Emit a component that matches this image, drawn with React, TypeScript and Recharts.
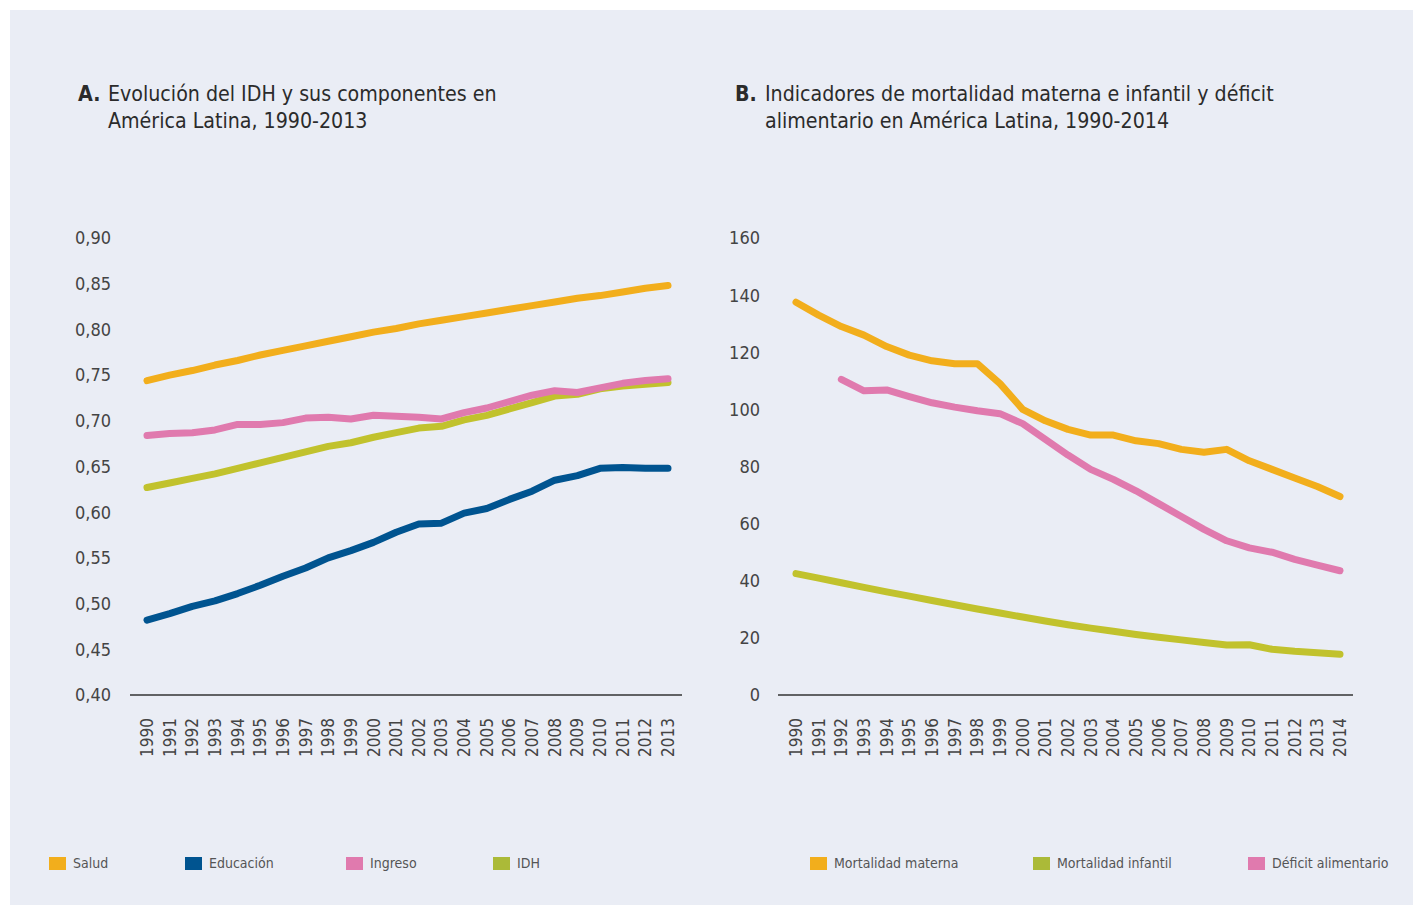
import React from 'react';
import { LineChart, Line, XAxis, YAxis } from 'recharts';

// Panel A: HDI and components, Latin America 1990-2013
const yearsA = [1990, 1991, 1992, 1993, 1994, 1995, 1996, 1997, 1998, 1999, 2000, 2001,
  2002, 2003, 2004, 2005, 2006, 2007, 2008, 2009, 2010, 2011, 2012, 2013];
const salud = [0.744, 0.750, 0.755, 0.761, 0.766, 0.772, 0.777, 0.782, 0.787, 0.792, 0.797, 0.801,
  0.806, 0.810, 0.814, 0.818, 0.822, 0.826, 0.830, 0.834, 0.837, 0.841, 0.845, 0.848];
const educacion = [0.482, 0.489, 0.497, 0.503, 0.511, 0.520, 0.530, 0.539, 0.550, 0.558, 0.567, 0.578,
  0.587, 0.588, 0.599, 0.604, 0.614, 0.623, 0.635, 0.640, 0.648, 0.649, 0.648, 0.648];
const ingreso = [0.684, 0.686, 0.687, 0.690, 0.696, 0.696, 0.698, 0.703, 0.704, 0.702, 0.706, 0.705,
  0.704, 0.702, 0.709, 0.714, 0.721, 0.728, 0.733, 0.731, 0.736, 0.741, 0.744, 0.746];
const idh = [0.627, 0.632, 0.637, 0.642, 0.648, 0.654, 0.660, 0.666, 0.672, 0.676, 0.682, 0.687,
  0.692, 0.694, 0.701, 0.706, 0.713, 0.720, 0.727, 0.729, 0.735, 0.738, 0.740, 0.742];
const ticksA = [0.4, 0.45, 0.5, 0.55, 0.6, 0.65, 0.7, 0.75, 0.8, 0.85, 0.9];

// Panel B: maternal/infant mortality and food deficit, 1990-2014
const yearsB = [1990, 1991, 1992, 1993, 1994, 1995, 1996, 1997, 1998, 1999, 2000, 2001,
  2002, 2003, 2004, 2005, 2006, 2007, 2008, 2009, 2010, 2011, 2012, 2013, 2014];
const mortMaterna = [137.5, 133, 129, 126, 122, 119, 117, 116, 116, 109, 100, 96,
  93, 91, 91, 89, 88, 86, 85, 86, 82, 79, 76, 73, 69.5];
const mortInfantil = [42.5, 40.9, 39.3, 37.7, 36.1, 34.6, 33.1, 31.6, 30.1, 28.7, 27.3, 25.9,
  24.6, 23.4, 22.3, 21.2, 20.2, 19.3, 18.4, 17.5, 17.6, 16.0, 15.3, 14.8, 14.3];
const deficit = [null, null, 110.5, 106.5, 106.8, 104.5, 102.3, 100.8, 99.5, 98.5, 95, 89.5,
  84, 79, 75.5, 71.5, 67, 62.5, 58, 54, 51.5, 50, 47.5, 45.5, 43.5];
const ticksB = [0, 20, 40, 60, 80, 100, 120, 140, 160];

const dataA = yearsA.map((year, i) => ({
  year: String(year), Salud: salud[i], 'Educación': educacion[i], Ingreso: ingreso[i], IDH: idh[i],
}));
const dataB = yearsB.map((year, i) => ({
  year: String(year),
  'Mortalidad materna': mortMaterna[i],
  'Mortalidad infantil': mortInfantil[i],
  'Déficit alimentario': deficit[i],
}));

const FONT = "'Liberation Sans Narrow', 'DejaVu Sans Condensed', Roboto, sans-serif";
const BG = '#eaedf5';

const YearTick = (props: any) => {
  const { x, y, payload } = props;
  return (
    <g transform={`translate(${x},${y})`}>
      <text transform="rotate(-90)" textAnchor="end" dominantBaseline="central"
        fill="#444" fontSize={17} fontFamily={FONT}>
        {payload.value}
      </text>
    </g>
  );
};

const lineProps = {
  type: 'linear' as const,
  dot: false,
  strokeWidth: 7,
  strokeLinecap: 'round' as const,
  strokeLinejoin: 'round' as const,
  isAnimationActive: false,
};

const Title = ({ letter, lines, left }: { letter: string, lines: string[], left: number }) => (
  <div style={{ position: 'absolute', left, top: 80, fontFamily: FONT, fontSize: 21.2, lineHeight: '27px', color: '#2b2b2b' }}>
    <span style={{ position: 'absolute', left: 0, top: 0, fontWeight: 'bold' }}>{letter}</span>
    <div style={{ marginLeft: 30, whiteSpace: 'nowrap' }}>
      {lines.map((l) => <div key={l}>{l}</div>)}
    </div>
  </div>
);

const LegendRow = ({ items }: { items: { name: string, color: string, x: number }[] }) => (
  <>
    {items.map((it) => (
      <div key={it.name} style={{ position: 'absolute', left: it.x, top: 855, display: 'flex', alignItems: 'center', fontFamily: FONT, fontSize: 14, color: '#555' }}>
        <span style={{ display: 'inline-block', width: 17, height: 13, background: it.color, marginRight: 7 }} />
        <span>{it.name}</span>
      </div>
    ))}
  </>
);

export default function App() {
  return (
    <div style={{ position: 'absolute', left: 0, top: 0, width: 1413, height: 907, background: '#fff' }}>
      <div style={{ position: 'absolute', left: 10, top: 10, width: 1403, height: 895, background: BG }} />

      <Title letter="A." left={78} lines={['Evolución del IDH y sus componentes en', 'América Latina, 1990-2013']} />
      <Title letter="B." left={735} lines={['Indicadores de mortalidad materna e infantil y déficit', 'alimentario en América Latina, 1990-2014']} />

      <div style={{ position: 'absolute', left: 60, top: 200 }}>
        <LineChart width={640} height={575} data={dataA} margin={{ top: 38, right: 18, bottom: 0, left: 0 }}>
          <XAxis dataKey="year" interval={0} height={80} padding={{ left: 17, right: 14 }}
            axisLine={{ stroke: '#333', strokeWidth: 1.5 }} tickLine={false} tickSize={0} tickMargin={23}
            tick={<YearTick />} />
          <YAxis type="number" domain={[0.4, 0.9]} ticks={ticksA} width={70} axisLine={false} tickLine={false}
            tickSize={0} tickMargin={19} tickFormatter={(v: number) => v.toFixed(2).replace('.', ',')}
            tick={{ fill: '#444', fontSize: 18, fontFamily: FONT }} />
          <Line dataKey="Salud" stroke="#f2ae1c" {...lineProps} />
          <Line dataKey="IDH" stroke="#c1c22d" {...lineProps} />
          <Line dataKey="Ingreso" stroke="#e07aae" {...lineProps} />
          <Line dataKey="Educación" stroke="#005490" {...lineProps} />
        </LineChart>
      </div>

      <div style={{ position: 'absolute', left: 700, top: 200 }}>
        <LineChart width={673} height={575} data={dataB} margin={{ top: 38, right: 20, bottom: 0, left: 0 }}>
          <XAxis dataKey="year" interval={0} height={80} padding={{ left: 18, right: 13 }}
            axisLine={{ stroke: '#333', strokeWidth: 1.5 }} tickLine={false} tickSize={0} tickMargin={23}
            tick={<YearTick />} />
          <YAxis type="number" domain={[0, 160]} ticks={ticksB} width={78} axisLine={false} tickLine={false}
            tickSize={0} tickMargin={18} tick={{ fill: '#444', fontSize: 18, fontFamily: FONT }} />
          <Line dataKey="Mortalidad materna" stroke="#f2ae1c" {...lineProps} />
          <Line dataKey="Mortalidad infantil" stroke="#c1c22d" {...lineProps} />
          <Line dataKey="Déficit alimentario" stroke="#e07aae" {...lineProps} />
        </LineChart>
      </div>

      <LegendRow items={[
        { name: 'Salud', color: '#f2ae1c', x: 49 },
        { name: 'Educación', color: '#005490', x: 185 },
        { name: 'Ingreso', color: '#e07aae', x: 346 },
        { name: 'IDH', color: '#abba38', x: 493 },
      ]} />
      <LegendRow items={[
        { name: 'Mortalidad materna', color: '#f2ae1c', x: 810 },
        { name: 'Mortalidad infantil', color: '#abba38', x: 1033 },
        { name: 'Déficit alimentario', color: '#e07aae', x: 1248 },
      ]} />
    </div>
  );
}
